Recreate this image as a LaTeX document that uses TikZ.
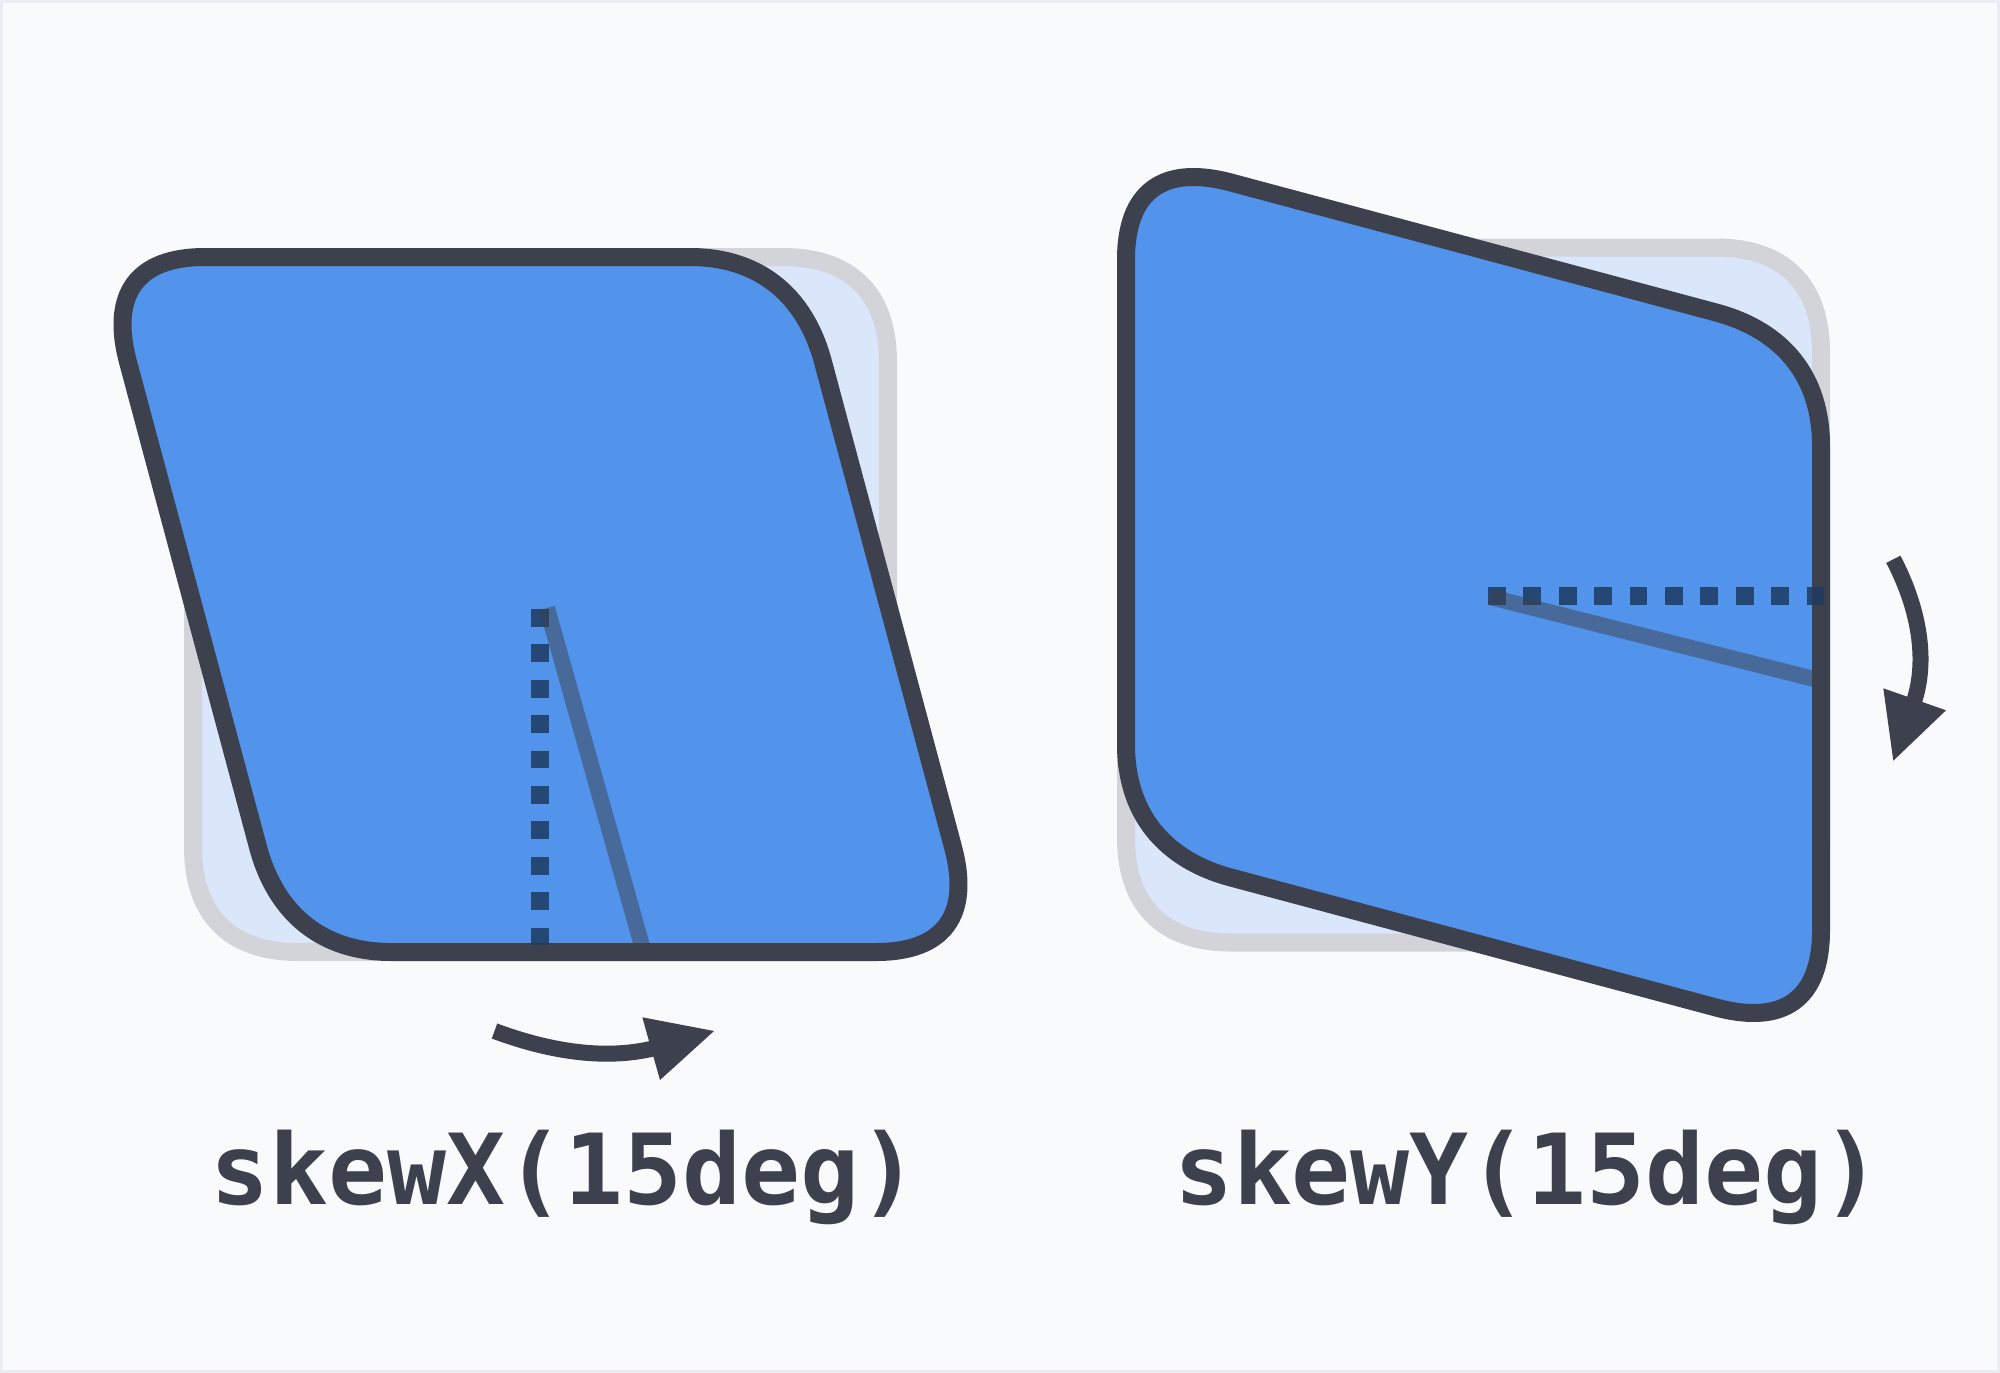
\documentclass[tikz,border=0pt]{standalone}
\usepackage{fontspec}
\newfontfamily\lblfont{DejaVu Sans Mono}
\definecolor{bg}{RGB}{248,250,252}
\definecolor{frame}{RGB}{234,238,242}
\definecolor{ghostfill}{RGB}{218,230,250}
\definecolor{ghoststroke}{RGB}{210,212,217}
\definecolor{boxblue}{RGB}{82,148,235}
\definecolor{ink}{RGB}{61,65,77}
\definecolor{navy}{RGB}{30,58,95}
\begin{document}
\begin{tikzpicture}[x=1pt,y=-1pt,
  rsq/.style={insert path={(-242.5,-347.5) -- (242.5,-347.5)
     .. controls (310.5,-347.5) and (347.5,-310.5) .. (347.5,-242.5)
     -- (347.5,242.5)
     .. controls (347.5,310.5) and (310.5,347.5) .. (242.5,347.5)
     -- (-242.5,347.5)
     .. controls (-310.5,347.5) and (-347.5,310.5) .. (-347.5,242.5)
     -- (-347.5,-242.5)
     .. controls (-347.5,-310.5) and (-310.5,-347.5) .. (-242.5,-347.5) -- cycle}},
  ghostbox/.style={fill=ghostfill, draw=ghoststroke, line width=18pt, line join=round},
  skewbox/.style={fill=boxblue, draw=ink, line width=18pt, line join=round},
  guide/.style={draw=navy, draw opacity=0.85, line width=17.7pt, dash pattern=on 17.7pt off 17.7pt},
  skewline/.style={draw=ink, draw opacity=0.5, line width=16pt},
  shaft/.style={draw=ink, line width=16pt},
  head/.style={fill=ink},
  lbl/.style={text=ink, inner sep=0pt, anchor=base, font={\fontsize{98}{118}\lblfont\bfseries}}]
\useasboundingbox (0,0) rectangle (2000,1373);
\fill[bg] (0,0) rectangle (2000,1373);
\draw[frame, line width=3pt] (1.5,1.5) rectangle (1998.5,1371.5);

% ---- left: skewX ----
\begin{scope}[shift={(540.5,604.5)}]
  \path[ghostbox, rsq];
\end{scope}
\begin{scope}[shift={(540.5,604.5)}, xslant=-0.26795]
  \path[skewbox, rsq];
\end{scope}
\coordinate (lx0) at (540,609);
\coordinate (lx1) at (540,945);
\coordinate (ls0) at (547,608);
\coordinate (ls1) at (644,953);
\draw[guide] (lx0) -- (lx1);
\draw[skewline] (ls0) -- (ls1);

\coordinate (ax0) at (494.5,1031);
\coordinate (ax1) at (655,1048);
\draw[shaft] (ax0) .. controls (543,1049) and (601,1061.5) .. (ax1);
\coordinate (ah1) at (642.3,1017.3);
\coordinate (ah2) at (714,1031);
\coordinate (ah3) at (660,1080);
\fill[head] (ah1) -- (ah2) -- (ah3) -- cycle;

\node[lbl] (labelx) at (565,1204) {skewX(15deg)};

% ---- right: skewY ----
\begin{scope}[shift={(1473.5,595)}]
  \path[ghostbox, rsq];
\end{scope}
\begin{scope}[shift={(1473.5,595)}, yslant=-0.26795]
  \path[skewbox, rsq];
\end{scope}
\coordinate (ry0) at (1488,596);
\coordinate (ry1) at (1824,596);
\coordinate (rs0) at (1490,597);
\coordinate (rs1) at (1818,680);
\draw[guide] (ry0) -- (ry1);
\draw[skewline] (rs0) -- (rs1);

\coordinate (ay0) at (1893.3,559.3);
\coordinate (ay1) at (1913.5,703);
\draw[shaft] (ay0) .. controls (1915,600.5) and (1930,655) .. (ay1);
\coordinate (bh1) at (1883.3,688.3);
\coordinate (bh2) at (1946,710.3);
\coordinate (bh3) at (1893.3,760.7);
\fill[head] (bh1) -- (bh2) -- (bh3) -- cycle;

\node[lbl] (labely) at (1528,1204) {skewY(15deg)};
\end{tikzpicture}
\end{document}
